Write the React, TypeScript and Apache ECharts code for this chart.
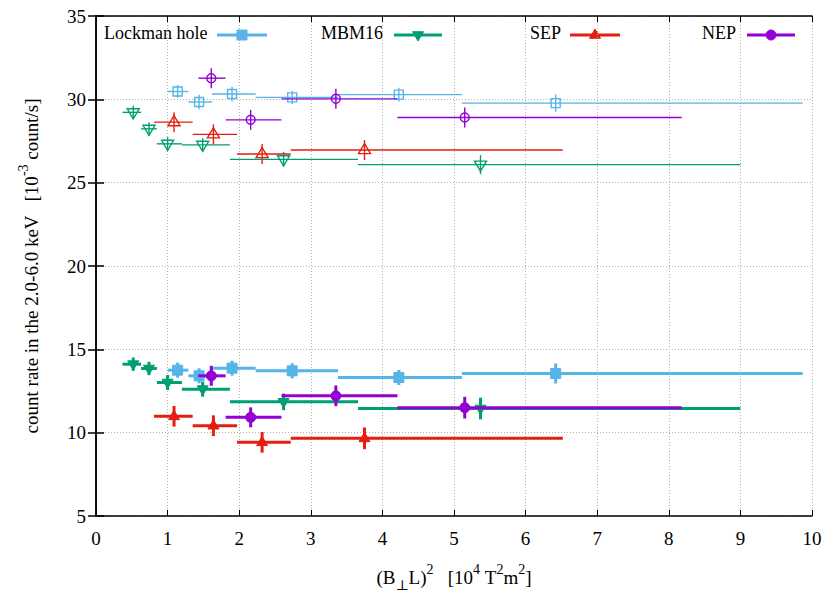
import React, { useEffect, useRef } from "react";
import * as echarts from "echarts";

// ---------- data ----------
const seriesNames = ["Lockman hole", "MBM16", "SEP", "NEP"];

const lockmanX = [1.14, 1.44, 1.9, 2.74, 4.23, 6.42];
const lockmanXLo = [1.0, 1.29, 1.62, 2.23, 3.38, 5.11];
const lockmanXHi = [1.29, 1.62, 2.23, 3.38, 5.11, 9.87];
const lockmanOpenY = [30.47, 29.84, 30.32, 30.12, 30.28, 29.77];
const lockmanOpenErr = [0.38, 0.43, 0.44, 0.4, 0.41, 0.52];
const lockmanFilledY = [13.75, 13.41, 13.87, 13.71, 13.31, 13.55];
const lockmanFilledErr = [0.45, 0.45, 0.45, 0.45, 0.45, 0.6];

const mbmX = [0.52, 0.74, 1.0, 1.49, 2.62, 5.37];
const mbmXLo = [0.37, 0.63, 0.85, 1.2, 1.87, 3.66];
const mbmXHi = [0.63, 0.85, 1.2, 1.87, 3.66, 9.0];
const mbmOpenY = [29.22, 28.23, 27.33, 27.27, 26.4, 26.08];
const mbmOpenErr = [0.4, 0.4, 0.4, 0.4, 0.45, 0.57];
const mbmFilledY = [14.11, 13.85, 13.01, 12.61, 11.85, 11.45];
const mbmFilledErr = [0.4, 0.4, 0.45, 0.45, 0.5, 0.65];

const sepX = [1.09, 1.64, 2.32, 3.75];
const sepXLo = [0.81, 1.35, 1.97, 2.72];
const sepXHi = [1.35, 1.97, 2.72, 6.52];
const sepOpenY = [28.63, 27.9, 26.72, 26.96];
const sepOpenErr = [0.6, 0.6, 0.6, 0.6];
const sepFilledY = [10.98, 10.42, 9.42, 9.66];
const sepFilledErr = [0.62, 0.62, 0.62, 0.65];

const nepX = [1.61, 2.16, 3.35, 5.15];
const nepXLo = [1.43, 1.81, 2.59, 4.21];
const nepXHi = [1.81, 2.59, 4.21, 8.18];
const nepOpenY = [31.27, 28.77, 30.03, 28.91];
const nepOpenErr = [0.6, 0.6, 0.6, 0.6];
const nepFilledY = [13.41, 10.92, 12.21, 11.5];
const nepFilledErr = [0.6, 0.6, 0.62, 0.65];

const xTicks = [0, 1, 2, 3, 4, 5, 6, 7, 8, 9, 10];
const yTicks = [5, 10, 15, 20, 25, 30, 35];

// ---------- styles ----------
const COLORS = ["#56b4e9", "#009e73", "#e51e10", "#9400d3"];
const SHAPES = ["square", "tridown", "triup", "circle"];
const FONT = "'Liberation Serif', 'DejaVu Serif', serif";

function rows(x: number[], lo: number[], hi: number[], y: number[], e: number[]) {
  return x.map((v, i) => [v, y[i], lo[i], hi[i], e[i]]);
}

function marker(shape: string, cx: number, cy: number, filled: boolean, color: string): any {
  const style = filled
    ? { fill: color, stroke: color, lineWidth: 1 }
    : { fill: "none", stroke: color, lineWidth: 1.4 };
  const s = filled ? 5 : 4.5;
  if (shape === "square") {
    return { type: "rect", shape: { x: cx - s, y: cy - s, width: 2 * s, height: 2 * s }, style };
  }
  if (shape === "circle") {
    return { type: "circle", shape: { cx, cy, r: s }, style };
  }
  const h = filled ? 6 : 6.5;
  const w = filled ? 5.5 : 6;
  if (shape === "triup") {
    return {
      type: "polygon",
      shape: { points: [[cx, cy - h], [cx - w, cy + h * 0.55], [cx + w, cy + h * 0.55]] },
      style,
    };
  }
  return {
    type: "polygon",
    shape: { points: [[cx, cy + h], [cx - w, cy - h * 0.55], [cx + w, cy - h * 0.55]] },
    style,
  };
}

function makeRender(shape: string, filled: boolean, color: string) {
  return (_params: any, api: any) => {
    const x = api.value(0);
    const y = api.value(1);
    const lo = api.value(2);
    const hi = api.value(3);
    const e = api.value(4);
    const c = api.coord([x, y]);
    const pLo = api.coord([lo, y]);
    const pHi = api.coord([hi, y]);
    const pTop = api.coord([x, y + e]);
    const pBot = api.coord([x, y - e]);
    const lw = filled ? 3 : 1.4;
    return {
      type: "group",
      children: [
        { type: "line", shape: { x1: pLo[0], y1: c[1], x2: pHi[0], y2: c[1] }, style: { stroke: color, lineWidth: lw } },
        { type: "line", shape: { x1: c[0], y1: pTop[1], x2: c[0], y2: pBot[1] }, style: { stroke: color, lineWidth: lw } },
        marker(shape, c[0], c[1], filled, color),
      ],
    };
  };
}

const dataSets = [
  { open: rows(lockmanX, lockmanXLo, lockmanXHi, lockmanOpenY, lockmanOpenErr), filled: rows(lockmanX, lockmanXLo, lockmanXHi, lockmanFilledY, lockmanFilledErr) },
  { open: rows(mbmX, mbmXLo, mbmXHi, mbmOpenY, mbmOpenErr), filled: rows(mbmX, mbmXLo, mbmXHi, mbmFilledY, mbmFilledErr) },
  { open: rows(sepX, sepXLo, sepXHi, sepOpenY, sepOpenErr), filled: rows(sepX, sepXLo, sepXHi, sepFilledY, sepFilledErr) },
  { open: rows(nepX, nepXLo, nepXHi, nepOpenY, nepOpenErr), filled: rows(nepX, nepXLo, nepXHi, nepFilledY, nepFilledErr) },
];

function legendGraphics(): any[] {
  const items = [
    { textX: 104, lineX1: 217, lineX2: 267 },
    { textX: 321, lineX1: 394, lineX2: 442 },
    { textX: 530, lineX1: 570, lineX2: 620 },
    { textX: 702, lineX1: 747, lineX2: 795 },
  ];
  const ly = 35;
  const out: any[] = [];
  items.forEach((it, i) => {
    out.push({
      type: "text",
      left: it.textX,
      top: ly - 11,
      style: { text: seriesNames[i], font: `18px ${FONT}`, fill: "#000" },
    });
    out.push({
      type: "line",
      shape: { x1: it.lineX1, y1: ly, x2: it.lineX2, y2: ly },
      style: { stroke: COLORS[i], lineWidth: 3 },
    });
    out.push(marker(SHAPES[i], (it.lineX1 + it.lineX2) / 2, ly, true, COLORS[i]));
  });
  return out;
}

export default function App() {
  const ref = useRef<HTMLDivElement>(null);
  useEffect(() => {
    if (!ref.current) return;
    const chart = echarts.init(ref.current, null, { renderer: "svg" });
    const series: any[] = [];
    dataSets.forEach((d, i) => {
      series.push({
        type: "custom",
        name: seriesNames[i] + " (open)",
        renderItem: makeRender(SHAPES[i], false, COLORS[i]),
        data: d.open,
        encode: { x: 0, y: 1 },
        clip: true,
        z: 2 + i,
      });
    });
    dataSets.forEach((d, i) => {
      series.push({
        type: "custom",
        name: seriesNames[i],
        renderItem: makeRender(SHAPES[i], true, COLORS[i]),
        data: d.filled,
        encode: { x: 0, y: 1 },
        clip: true,
        z: 2 + i,
      });
    });

    const tickLabelStyle = { fontFamily: FONT, fontSize: 19, color: "#000" };
    const gridLine = { show: true, lineStyle: { color: "#b0b0b0", type: [1, 2] as any, width: 1 } };
    const axisLine = { show: true, lineStyle: { color: "#000", width: 1.5 } };
    const rich = {
      n: { fontFamily: FONT, fontSize: 19, lineHeight: 30, verticalAlign: "middle", color: "#000" },
      sup: { fontFamily: FONT, fontSize: 14, lineHeight: 30, verticalAlign: "top", color: "#000" },
      sub: { fontFamily: FONT, fontSize: 14, lineHeight: 30, verticalAlign: "bottom", color: "#000" },
    };

    chart.setOption({
      animation: false,
      grid: { left: 96, right: 17, top: 16, bottom: 80, containLabel: false },
      xAxis: [
        {
          type: "value",
          min: xTicks[0],
          max: xTicks[xTicks.length - 1],
          interval: 1,
          position: "bottom",
          axisLine,
          axisTick: { show: true, inside: true, length: 6, lineStyle: { color: "#000", width: 1 } },
          axisLabel: { ...tickLabelStyle, margin: 13 },
          splitLine: gridLine,
          name: "{n|(B}{sub|⊥}{n|L)}{sup|2}{n|   [10}{sup|4}{n| T}{sup|2}{n|m}{sup|2}{n|]}",
          nameLocation: "middle",
          nameGap: 46,
          nameTextStyle: { fontFamily: FONT, fontSize: 19, color: "#000", rich },
        },
        {
          type: "value",
          min: xTicks[0],
          max: xTicks[xTicks.length - 1],
          interval: 1,
          position: "top",
          axisLine,
          axisTick: { show: true, inside: true, length: 6, lineStyle: { color: "#000", width: 1 } },
          axisLabel: { show: false },
          splitLine: { show: false },
        },
      ],
      yAxis: [
        {
          type: "value",
          min: yTicks[0],
          max: yTicks[yTicks.length - 1],
          interval: 5,
          position: "left",
          axisLine,
          axisTick: { show: true, inside: true, length: 8, lineStyle: { color: "#000", width: 1.5 } },
          axisLabel: { ...tickLabelStyle, margin: 10 },
          splitLine: gridLine,
          name: "{n|count rate in the 2.0-6.0 keV   [10}{sup|-3}{n| count/s]}",
          nameLocation: "middle",
          nameGap: 50,
          nameRotate: 90,
          nameTextStyle: { fontFamily: FONT, fontSize: 19, color: "#000", rich },
        },
        {
          type: "value",
          min: yTicks[0],
          max: yTicks[yTicks.length - 1],
          interval: 5,
          position: "right",
          axisLine,
          axisTick: { show: true, inside: true, length: 8, lineStyle: { color: "#000", width: 1.5 } },
          axisLabel: { show: false },
          splitLine: { show: false },
        },
      ],
      graphic: legendGraphics(),
      series,
    });
    return () => chart.dispose();
  }, []);
  return <div ref={ref} style={{ width: 829, height: 597, position: "absolute", left: 0, top: 0 }} />;
}
